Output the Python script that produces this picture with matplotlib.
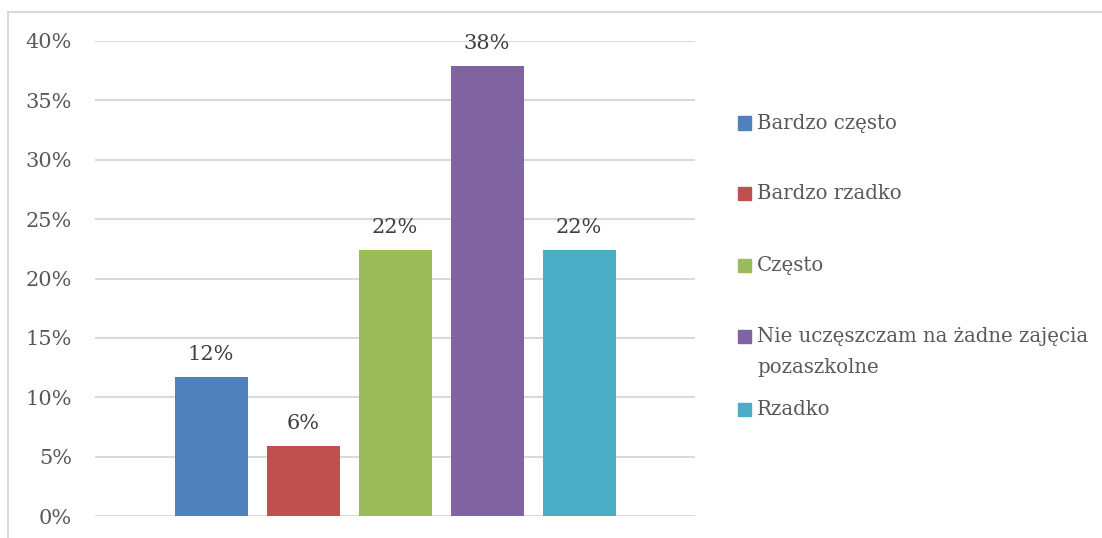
import matplotlib.pyplot as plt
from matplotlib.lines import Line2D
from matplotlib.patches import Rectangle

categories = ["Bardzo często", "Bardzo rzadko", "Często",
              "Nie uczęszczam na żadne zajęcia\npozaszkolne", "Rzadko"]
values = [0.117, 0.059, 0.224, 0.379, 0.224]
labels = ["12%", "6%", "22%", "38%", "22%"]
colors = ["#4F81BD", "#C0504D", "#9BBB59", "#8064A2", "#4BACC6"]
yticks = [0, 0.05, 0.10, 0.15, 0.20, 0.25, 0.30, 0.35, 0.40]

W, H = 1102, 538
font = "DejaVu Serif"

fig = plt.figure(figsize=(W / 100, H / 100), dpi=100)
ax = fig.add_axes([95 / W, 22 / H, 600 / W, 475 / H])

x = range(len(values))
ax.bar(x, values, width=73 / 92, color=colors, zorder=3)
for xi, v, lab in zip(x, values, labels):
    ax.text(xi, v + 0.011, lab, ha="center", va="bottom", fontsize=15,
            color="#404040", family=font)

ax.set_xlim(-0.5 - 70 / 92, len(values) - 0.5 + 70 / 92)
ax.set_ylim(0, 0.4)
ax.set_yticks(yticks)
ax.set_yticklabels([f"{round(t * 100)}%" for t in yticks], family=font,
                   fontsize=15, color="#595959")
ax.set_xticks([])
ax.tick_params(axis="y", length=0, pad=16.5)
ax.grid(axis="y", color="#D9D9D9", linewidth=1.5, zorder=0)
for s in ax.spines.values():
    s.set_visible(False)

# legend drawn by hand so the wrapped entry keeps its box on the first line
leg_y = [123, 193, 265, 336, 409]
for name, c, yy in zip(categories, colors, leg_y):
    fig.patches.append(Rectangle((738 / W, 1 - (yy + 6.5) / H), 13 / W, 13 / H,
                                 transform=fig.transFigure, color=c))
    fig.text(757 / W, 1 - (yy - 9) / H, name, ha="left", va="top",
             fontsize=14.2, color="#595959", family=font, linespacing=1.8)

# chart border (top and left visible)
fig.add_artist(Line2D([8 / W, 1], [1 - 12 / H, 1 - 12 / H], color="#D9D9D9",
                      linewidth=1.5, transform=fig.transFigure))
fig.add_artist(Line2D([8 / W, 8 / W], [0, 1 - 12 / H], color="#D9D9D9",
                      linewidth=1.5, transform=fig.transFigure))

fig.savefig("out.png", dpi=100)
